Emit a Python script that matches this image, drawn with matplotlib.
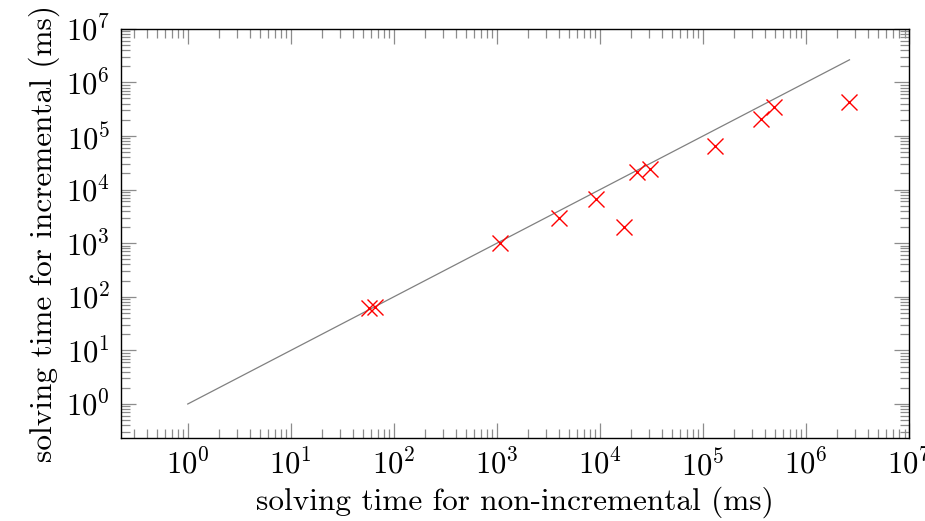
import matplotlib
matplotlib.use("Agg")
import matplotlib.pyplot as plt
import numpy as np
from matplotlib.ticker import LogLocator, NullFormatter

plt.rcParams['font.family'] = ['cmr10', 'DejaVu Serif']
plt.rcParams['mathtext.fontset'] = 'cm'
plt.rcParams['axes.unicode_minus'] = False
plt.rcParams['axes.formatter.use_mathtext'] = True

# log10 values
log_nonincremental = [1.76, 1.82, 3.03, 3.605, 3.957, 4.231, 4.358, 4.485, 5.115, 5.565, 5.685, 6.42]
log_incremental    = [1.79, 1.80, 3.008, 3.471, 3.833, 3.295, 4.334, 4.383, 4.803, 5.315, 5.535, 5.634]

x = 10.0 ** np.array(log_nonincremental)
y = 10.0 ** np.array(log_incremental)

fig = plt.figure(figsize=(9.25, 5.21), dpi=100)
ax = fig.add_axes([0.1311, 0.1587, 0.9830 - 0.1311, 0.9449 - 0.1587])

diag = np.array([1.0, x.max()])
ax.plot(diag, diag, color='#808080', lw=0.9, zorder=2)
ax.plot(x, y, linestyle='none', marker='x', color='red', markersize=11,
        markeredgewidth=1.0, zorder=3)

ax.set_xscale('log')
ax.set_yscale('log')
lo = 10 ** -0.645
ax.set_xlim(lo, 1e7)
ax.set_ylim(10 ** -0.64, 1e7)

for axis in (ax.xaxis, ax.yaxis):
    axis.set_major_locator(LogLocator(base=10, numticks=20))
    axis.set_minor_locator(LogLocator(base=10, subs=np.arange(2, 10), numticks=20))
    axis.set_minor_formatter(NullFormatter())

ax.tick_params(which='both', direction='in', top=True, right=True, color='#8c8c8c',
               width=0.9, labelsize=22)
ax.tick_params(which='major', length=10.5, pad=8)
ax.tick_params(which='minor', length=6.5)
for s in ax.spines.values():
    s.set_linewidth(1.0)
    s.set_color('black')

ax.set_xlabel('solving time for non-incremental (ms)', fontsize=22.5, labelpad=3)
ax.set_ylabel('solving time for incremental (ms)', fontsize=22.5, labelpad=4)

fig.savefig('out.png', dpi=100)
